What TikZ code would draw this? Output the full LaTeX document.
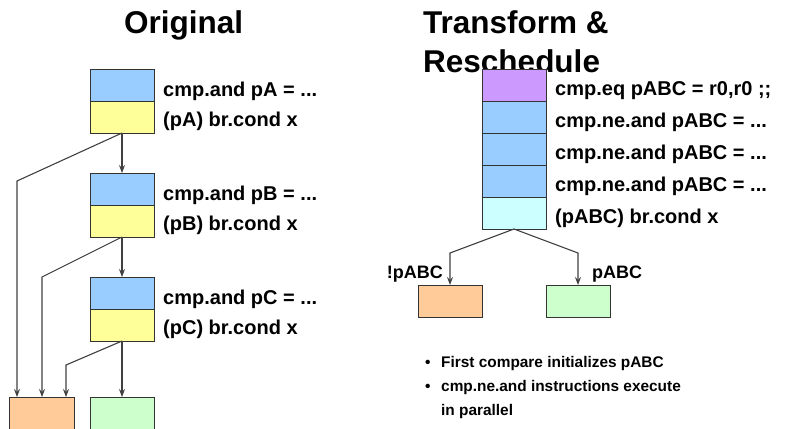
\documentclass[tikz,border=0pt]{standalone}
\usepackage{fontspec}
\setmainfont{Liberation Sans}
\usetikzlibrary{arrows.meta}
\definecolor{cblue}{HTML}{99CCFF}
\definecolor{cyellow}{HTML}{FFFF99}
\definecolor{corange}{HTML}{FFCC99}
\definecolor{cgreen}{HTML}{CCFFCC}
\definecolor{cpurple}{HTML}{CC99FF}
\definecolor{ccyan}{HTML}{CCFFFF}
\begin{document}
\begin{tikzpicture}[x=1bp,y=-1bp,
  title/.style={font=\fontsize{31.5bp}{38bp}\selectfont\bfseries, anchor=base west, inner sep=0},
  cell/.style={draw=black!80, line width=1bp, minimum width=64bp, minimum height=32bp,
    inner sep=0, outer sep=0, anchor=north west},
  ins/.style={font=\fontsize{20bp}{24bp}\selectfont\bfseries, anchor=base west, inner sep=0},
  tag/.style={font=\fontsize{18bp}{22bp}\selectfont\bfseries, inner sep=0},
  bul/.style={font=\fontsize{15.4bp}{20bp}\selectfont\bfseries, anchor=base west, inner sep=0},
  conn/.style={draw=black!75, line width=1.1bp,
    -{Stealth[length=8bp,width=6bp,inset=3bp]}}]
\clip (0,0) rectangle (788,428);

% headings
\node[title] (t1) at (124,33) {Original};
\node[title] (t2) at (423,33) {Transform \&};
\node[title] (t3) at (423,72) {Reschedule};

% original code: three compare/branch pairs
\node[cell, fill=cblue]   (a1) at (90,69)  {};
\node[cell, fill=cyellow] (a2) at (90,101) {};
\node[cell, fill=cblue]   (b1) at (90,173) {};
\node[cell, fill=cyellow] (b2) at (90,205) {};
\node[cell, fill=cblue]   (c1) at (90,277) {};
\node[cell, fill=cyellow] (c2) at (90,309) {};
\node[cell, fill=corange, minimum width=65bp, minimum height=60bp] (lo) at (9,397) {};
\node[cell, fill=cgreen, minimum height=60bp] (lg) at (90,397) {};

\node[ins] (la1) at (163,96)  {cmp.and pA = ...};
\node[ins] (la2) at (163,126) {(pA) br.cond x};
\node[ins] (lb1) at (163,200) {cmp.and pB = ...};
\node[ins] (lb2) at (163,230) {(pB) br.cond x};
\node[ins] (lc1) at (163,304) {cmp.and pC = ...};
\node[ins] (lc2) at (163,334) {(pC) br.cond x};

\coordinate (ka) at (17,181);
\coordinate (kb) at (42,277);
\coordinate (kc) at (66,365);
\draw[conn] (a2.south) -- (b1.north);
\draw[conn] (a2.south) -- (ka) -- (ka |- lo.north);
\draw[conn] (b2.south) -- (c1.north);
\draw[conn] (b2.south) -- (kb) -- (kb |- lo.north);
\draw[conn] (c2.south) -- (lg.north);
\draw[conn] (c2.south) -- (kc) -- (kc |- lo.north);

% transformed code: parallel compares, one branch
\node[cell, fill=cpurple] (r0) at (482,69)  {};
\node[cell, fill=cblue]   (r1) at (482,101) {};
\node[cell, fill=cblue]   (r2) at (482,133) {};
\node[cell, fill=cblue]   (r3) at (482,165) {};
\node[cell, fill=ccyan]   (r4) at (482,197) {};
\node[cell, fill=corange] (ro) at (418,285) {};
\node[cell, fill=cgreen]  (rg) at (546,285) {};

\node[ins] (lr0) at (555,95.5)  {cmp.eq pABC = r0,r0 ;;};
\node[ins] (lr1) at (555,127.5) {cmp.ne.and pABC = ...};
\node[ins] (lr2) at (555,159.5) {cmp.ne.and pABC = ...};
\node[ins] (lr3) at (555,191.5) {cmp.ne.and pABC = ...};
\node[ins] (lr4) at (555,223.5) {(pABC) br.cond x};

\coordinate (kl) at (450,253);
\coordinate (kr) at (578,253);
\draw[conn] (r4.south) -- (kl) -- (kl |- ro.north);
\draw[conn] (r4.south) -- (kr) -- (kr |- rg.north);
\node[tag, anchor=base east] (tn) at (443,278) {!pABC};
\node[tag, anchor=base west] (tp) at (592,278) {pABC};

% notes
\node[bul] (d1) at (425,367) {•};
\node[bul] (n1) at (441,367) {First compare initializes pABC};
\node[bul] (d2) at (425,391) {•};
\node[bul] (n2) at (441,391) {cmp.ne.and instructions execute};
\node[bul] (n3) at (441,415) {in parallel};
\end{tikzpicture}
\end{document}
